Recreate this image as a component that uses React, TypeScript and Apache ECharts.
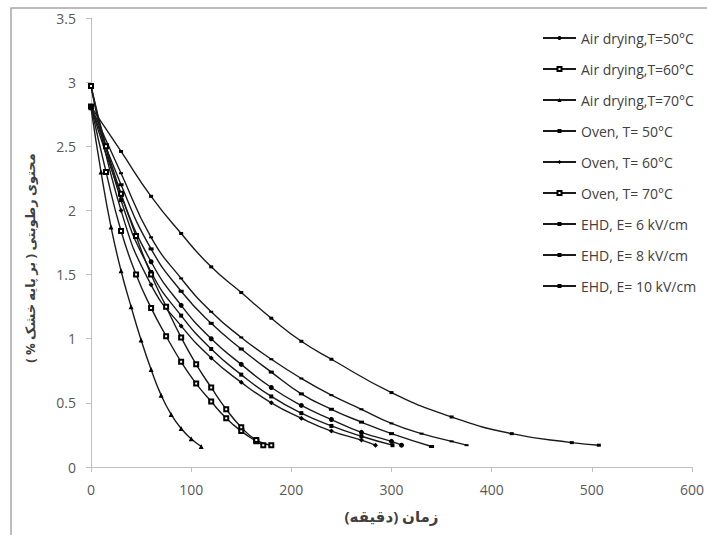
import React, { useEffect, useRef } from "react";
import * as echarts from "echarts";

const seriesNames = [
  "Air drying,T=50°C",
  "Air drying,T=60°C",
  "Air drying,T=70°C",
  "Oven, T= 50°C",
  "Oven, T= 60°C",
  "Oven, T= 70°C",
  "EHD, E= 6 kV/cm",
  "EHD, E= 8 kV/cm",
  "EHD, E= 10 kV/cm",
];

const xTicks = [0, 100, 200, 300, 400, 500, 600];
const yTicks = [0, 0.5, 1, 1.5, 2, 2.5, 3, 3.5];

// time (min) and moisture content for each series
const air50T = [0, 30, 60, 90, 120, 150, 180, 210, 240, 270, 300, 310];
const air50M = [2.81, 2.12, 1.6, 1.26, 1.0, 0.8, 0.62, 0.48, 0.37, 0.27, 0.2, 0.17];

const air60T = [0, 15, 30, 45, 60, 75, 90, 105, 120, 135, 150, 165, 172];
const air60M = [2.81, 2.3, 1.84, 1.5, 1.24, 1.02, 0.82, 0.65, 0.51, 0.38, 0.28, 0.2, 0.17];

const air70T = [0, 10, 20, 30, 40, 50, 60, 70, 80, 90, 100, 110];
const air70M = [2.8, 2.3, 1.87, 1.53, 1.25, 0.99, 0.76, 0.56, 0.41, 0.3, 0.22, 0.16];

const oven50T = [0, 30, 60, 90, 120, 150, 180, 210, 240, 270, 301];
const oven50M = [2.97, 2.08, 1.52, 1.18, 0.92, 0.72, 0.55, 0.42, 0.32, 0.24, 0.17];

const oven60T = [0, 30, 60, 90, 120, 150, 180, 210, 240, 270, 284];
const oven60M = [2.97, 2.0, 1.42, 1.1, 0.85, 0.66, 0.5, 0.38, 0.28, 0.21, 0.17];

const oven70T = [0, 15, 30, 45, 60, 75, 90, 105, 120, 135, 150, 165, 180];
const oven70M = [2.97, 2.5, 2.13, 1.8, 1.5, 1.25, 1.01, 0.8, 0.62, 0.45, 0.31, 0.21, 0.17];

const ehd6T = [0, 30, 60, 90, 120, 150, 180, 210, 240, 300, 360, 420, 480, 507];
const ehd6M = [2.81, 2.46, 2.11, 1.82, 1.56, 1.36, 1.16, 0.98, 0.84, 0.58, 0.39, 0.26, 0.19, 0.17];

const ehd8T = [0, 30, 60, 90, 120, 150, 180, 210, 240, 270, 300, 330, 360, 375];
const ehd8M = [2.81, 2.29, 1.79, 1.47, 1.21, 1.01, 0.84, 0.69, 0.56, 0.45, 0.34, 0.26, 0.2, 0.17];

const ehd10T = [0, 30, 60, 90, 120, 150, 180, 210, 240, 270, 300, 340];
const ehd10M = [2.81, 2.2, 1.7, 1.37, 1.12, 0.92, 0.74, 0.57, 0.45, 0.35, 0.26, 0.16];

const xName = "زمان (دقیقه)";
const yName = "محتوی رطوبتی ( بر پایه خشک % )";

const FONT = "'Open Sans', 'DejaVu Sans', sans-serif";

function pairs(t: number[], m: number[]) {
  return t.map((v, i) => [v, m[i]]);
}

export default function App() {
  const ref = useRef<HTMLDivElement>(null);

  useEffect(() => {
    if (!ref.current) return;
    const chart = echarts.init(ref.current, undefined, { renderer: "svg" });

    const defs: Array<[number[], number[], string, any, boolean]> = [
      [air50T, air50M, "circle", 5, false],
      [air60T, air60M, "emptyRect", 4, true],
      [air70T, air70M, "triangle", 5, false],
      [oven50T, oven50M, "rect", 4, false],
      [oven60T, oven60M, "diamond", 5, false],
      [oven70T, oven70M, "emptyRect", 4, true],
      [ehd6T, ehd6M, "rect", [4, 3], false],
      [ehd8T, ehd8M, "rect", [4, 2], false],
      [ehd10T, ehd10M, "rect", [5, 3], false],
    ];

    const series = defs.map(([t, m, sym, size, empty], i) => ({
      name: seriesNames[i],
      type: "line",
      data: pairs(t, m),
      smooth: 0.5,
      symbol: sym,
      symbolSize: size,
      showSymbol: true,
      lineStyle: { color: "#1a1a1a", width: 1.4 },
      itemStyle: empty
        ? { color: "#000", borderColor: "#000", borderWidth: 1 }
        : { color: "#000", borderWidth: 0 },
      emphasis: { disabled: true },
    }));

    chart.setOption({
      animation: false,
      backgroundColor: "#fff",
      textStyle: { fontFamily: FONT },
      graphic: [
        {
          type: "rect",
          shape: { x: 11, y: 8, width: 800, height: 700 },
          style: { fill: null, stroke: "#a6a6a6", lineWidth: 1.5 },
          silent: true,
          z: 100,
        },
        {
          type: "text",
          x: 30,
          y: 258,
          rotation: Math.PI / 2,
          silent: true,
          style: {
            text: yName,
            fill: "#404040",
            fontSize: 13,
            fontWeight: "bold",
            fontFamily: FONT,
            align: "center",
            verticalAlign: "middle",
          },
        },
      ],
      grid: { left: 91, right: 13, top: 18, bottom: 68, containLabel: false },
      legend: {
        orient: "vertical",
        left: 542,
        top: 30,
        padding: 0,
        itemWidth: 33,
        itemHeight: 5,
        itemGap: 15,
        data: seriesNames,
        textStyle: { color: "#404040", fontSize: 14, fontFamily: FONT, lineHeight: 16 },
      },
      xAxis: {
        type: "value",
        min: xTicks[0],
        max: xTicks[xTicks.length - 1],
        interval: xTicks[1] - xTicks[0],
        name: xName,
        nameLocation: "middle",
        nameGap: 41,
        nameTextStyle: { color: "#404040", fontSize: 15, fontWeight: "bold", fontFamily: FONT },
        axisLine: { show: true, lineStyle: { color: "#bfbfbf", width: 1 } },
        axisTick: { show: true, length: 5, lineStyle: { color: "#bfbfbf" } },
        axisLabel: { color: "#595959", fontSize: 14, margin: 15, fontFamily: FONT },
        splitLine: { show: false },
      },
      yAxis: {
        type: "value",
        min: yTicks[0],
        max: yTicks[yTicks.length - 1],
        interval: yTicks[1] - yTicks[0],
        axisLine: { show: true, lineStyle: { color: "#bfbfbf", width: 1 } },
        axisTick: { show: true, length: 5, lineStyle: { color: "#bfbfbf" } },
        axisLabel: { color: "#595959", fontSize: 14, margin: 15, fontFamily: FONT, formatter: (v: number) => String(v) },
        splitLine: { show: false },
      },
      series,
    });

    return () => chart.dispose();
  }, []);

  return (
    <div
      ref={ref}
      style={{ position: "absolute", left: 0, top: 0, width: 707, height: 535 }}
    />
  );
}
